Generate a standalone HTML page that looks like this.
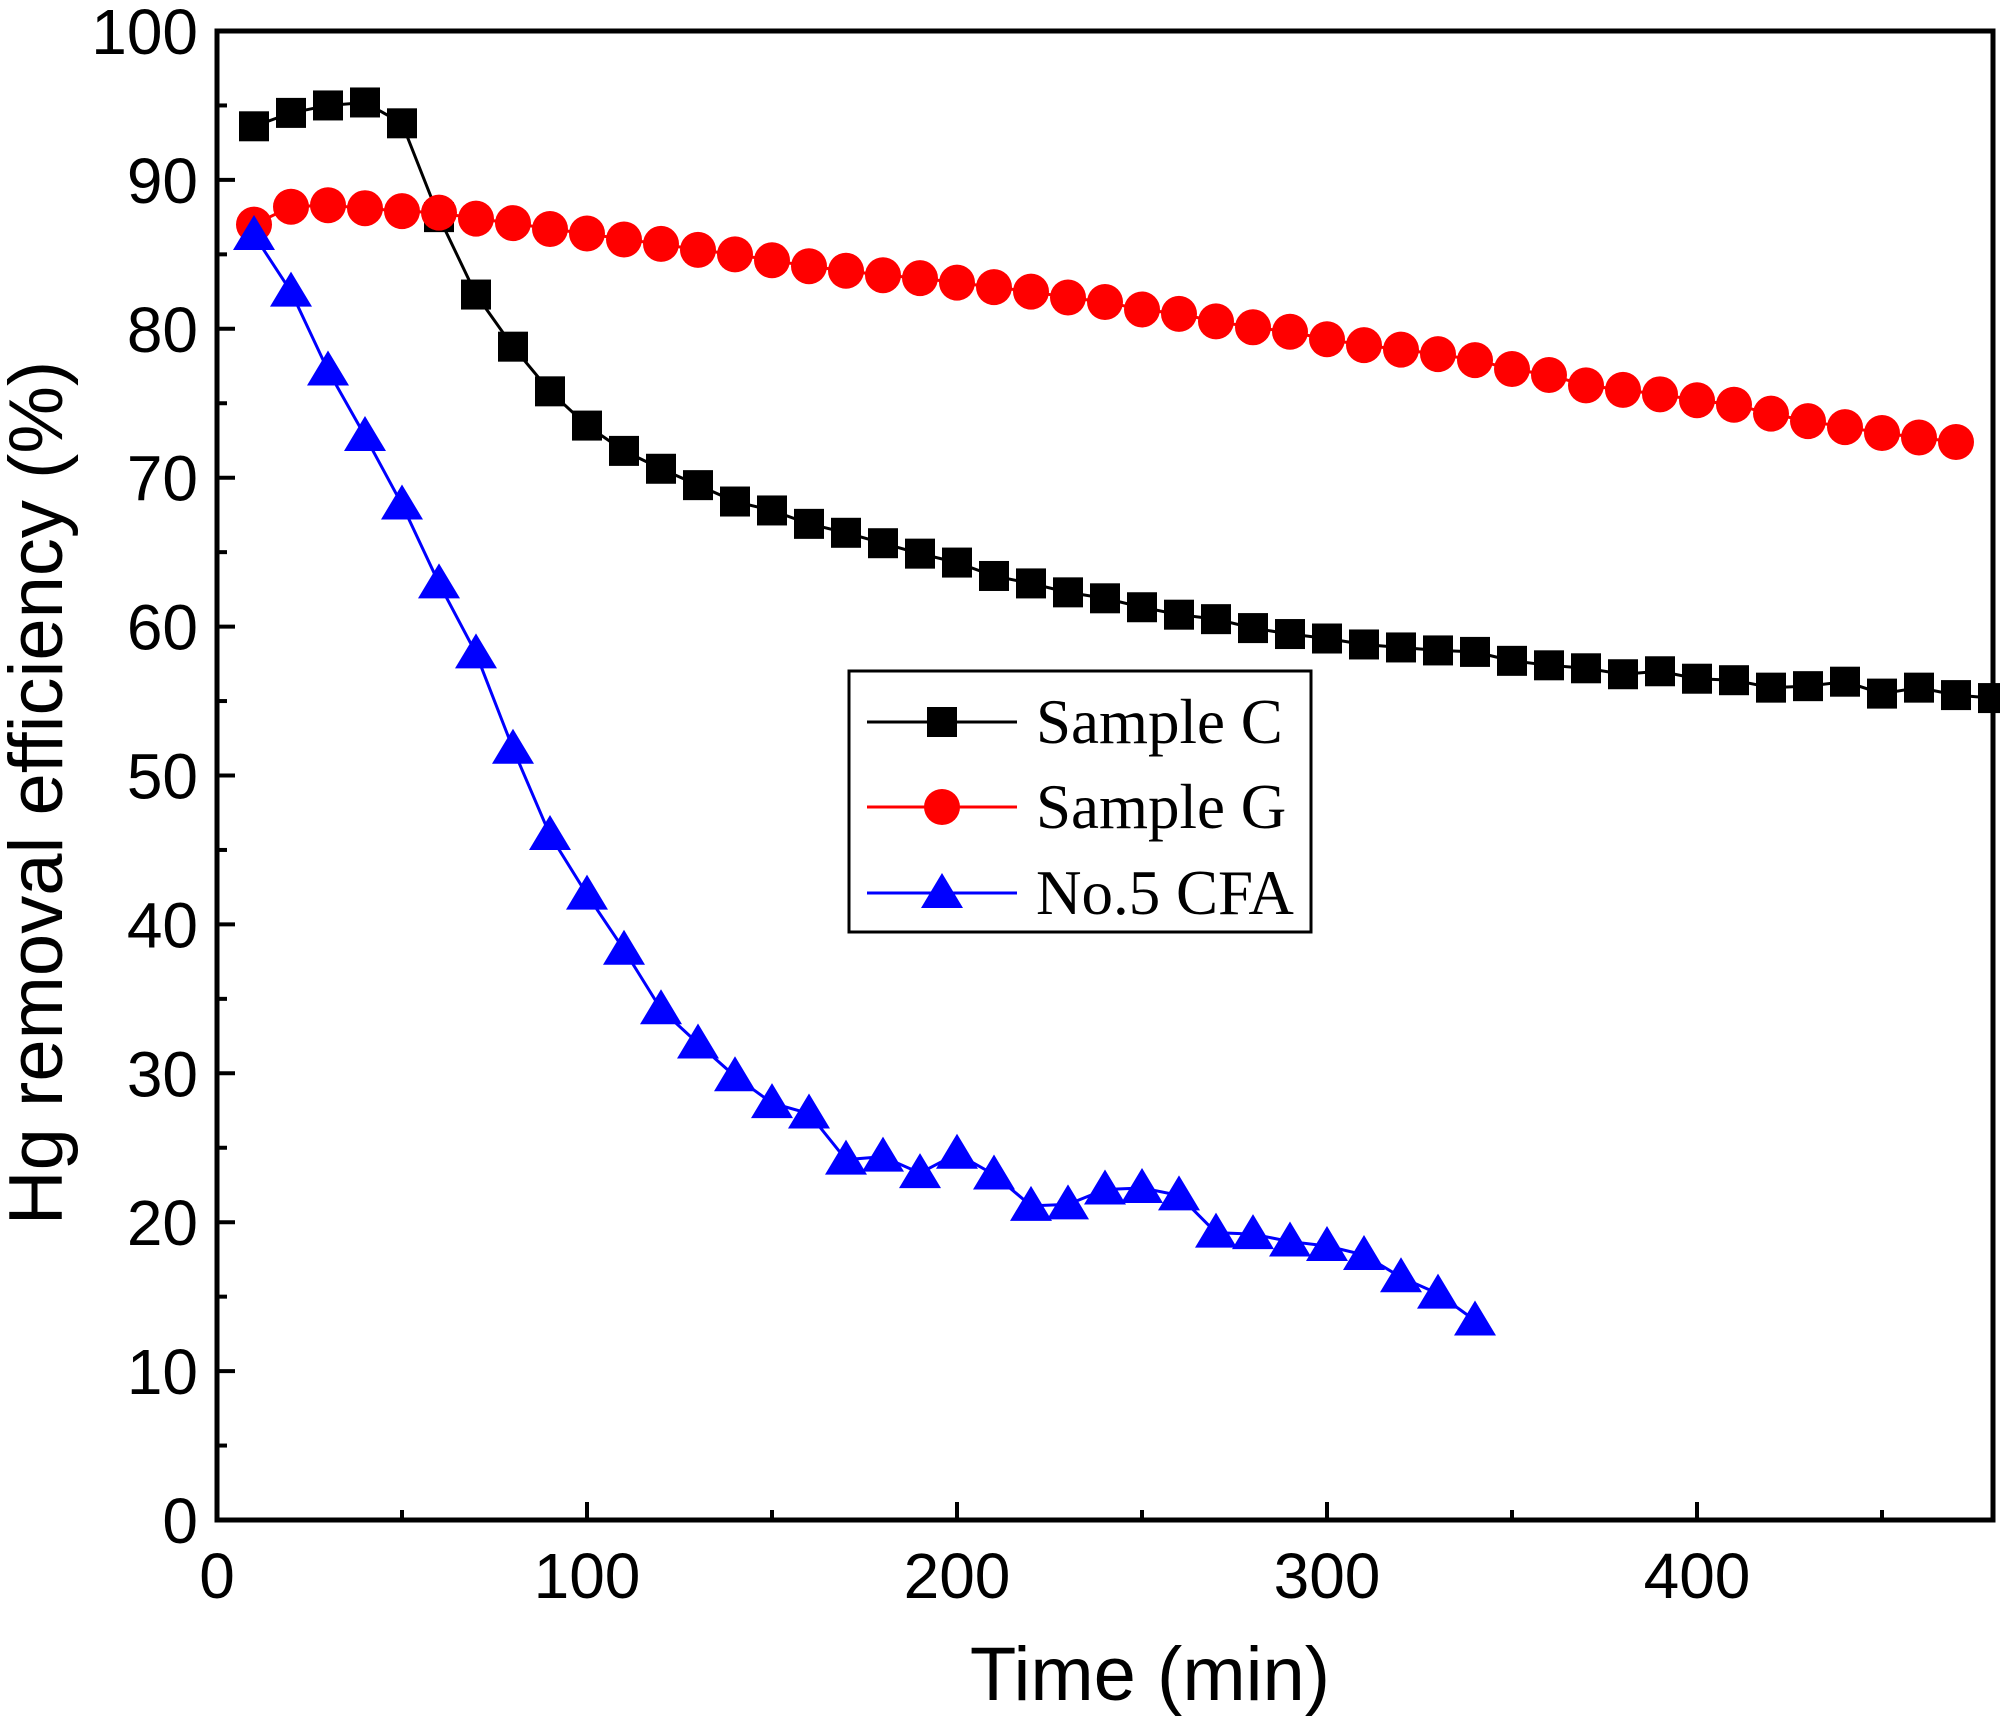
<!DOCTYPE html>
<html><head><meta charset="utf-8"><style>
html,body{margin:0;padding:0;background:#fff;}
svg{display:block;}
text{font-family:"Liberation Sans",sans-serif;}
</style></head><body>
<svg id="chart" width="2000" height="1718" xmlns="http://www.w3.org/2000/svg"></svg>
<script>
const times = [10,20,30,40,50,60,70,80,90,100,110,120,130,140,150,160,170,180,190,200,210,220,230,240,250,260,270,280,290,300,310,320,330,340,350,360,370,380,390,400,410,420,430,440,450,460,470,480];
const sampleC = [93.6,94.5,95.0,95.2,93.8,87.5,82.3,78.8,75.8,73.5,71.8,70.6,69.5,68.4,67.8,66.9,66.3,65.6,64.9,64.3,63.4,62.9,62.3,61.9,61.3,60.8,60.5,59.9,59.5,59.2,58.8,58.6,58.4,58.3,57.7,57.4,57.2,56.8,57.0,56.5,56.4,55.9,56.0,56.3,55.5,55.9,55.4,55.2];
const sampleG = [87.0,88.2,88.3,88.1,87.9,87.8,87.4,87.1,86.7,86.4,86.0,85.7,85.3,85.0,84.6,84.2,83.9,83.6,83.4,83.1,82.8,82.5,82.1,81.8,81.3,81.0,80.5,80.1,79.8,79.3,78.9,78.6,78.3,77.9,77.3,76.9,76.2,75.9,75.6,75.2,74.9,74.3,73.8,73.4,73.0,72.7,72.4];
const cfa = [86.3,82.5,77.2,72.8,68.2,62.9,58.2,51.8,46.0,42.0,38.3,34.3,32.0,29.8,28.0,27.3,24.2,24.4,23.3,24.6,23.2,21.1,21.2,22.2,22.3,21.8,19.3,19.2,18.7,18.4,17.8,16.3,15.2,13.4];
const xTicks = [0,100,200,300,400];
const yTicks = [0,10,20,30,40,50,60,70,80,90,100];

const svg = document.getElementById('chart');
const NS = 'http://www.w3.org/2000/svg';
const L=217,R=1993,T=31,B=1520,XMAX=480,YMAX=100;
const xs = v => L + (R-L)*v/XMAX;
const ys = v => B - (B-T)*v/YMAX;
function mk(tag, attrs, parent){const e=document.createElementNS(NS,tag);for(const k in attrs)e.setAttribute(k,attrs[k]);(parent||svg).appendChild(e);return e;}

const axes = mk('g',{});


for(let v=0; v<=XMAX; v+=50){
  const big = v%100===0;
  const t = mk('line',{x1:xs(v),x2:xs(v),y1:B,y2:B-(big?18:10),stroke:'#000','stroke-width':4},axes);
  
  
}
for(let v=0; v<=YMAX; v+=5){
  const big = v%10===0;
  const t = mk('line',{x1:L,x2:L+(big?18:10),y1:ys(v),y2:ys(v),stroke:'#000','stroke-width':4},axes);
  
  
}
xTicks.forEach(v=>{
  const t = mk('text',{x:xs(v),y:1598,'text-anchor':'middle','font-size':64},axes);
  t.textContent=v;
  
  
});
yTicks.forEach(v=>{
  const t = mk('text',{x:198,y:ys(v)+23,'text-anchor':'end','font-size':64},axes);
  t.textContent=v;
  
  
});
const xt = mk('text',{x:1150,y:1700,'text-anchor':'middle','font-size':76});
xt.textContent='Time (min)';


const yt = mk('text',{x:0,y:0,'text-anchor':'middle','font-size':76,transform:'translate(62,793) rotate(-90)'});
yt.textContent='Hg removal efficiency (%)';



function series(vals,color,shape,name){
  const g = mk('g',{});
  
  
  const pts = vals.map((v,i)=>xs(times[i])+','+ys(v)).join(' ');
  const pl = mk('polyline',{points:pts,fill:'none',stroke:color,'stroke-width':3},g);
  
  
  vals.forEach((v,i)=>{
    const m = marker(shape,xs(times[i]),ys(v),color,g);
    
    
  });
}
function marker(shape,x,y,color,g){
  if(shape==='sq') return mk('rect',{x:x-15,y:y-15,width:30,height:30,fill:color},g);
  if(shape==='ci') return mk('circle',{cx:x,cy:y,r:18,fill:color},g);
  return mk('polygon',{points:`${x},${y-20} ${x-21},${y+15} ${x+21},${y+15}`,fill:color},g);
}
series(sampleC,'#000','sq','sample-c-series');
series(sampleG,'#f00','ci','sample-g-series');
series(cfa,'#00f','tr','cfa-series');

const fr = mk('rect',{x:L,y:T,width:R-L,height:B-T,fill:'none',stroke:'#000','stroke-width':5});



const lg = mk('g',{});


const lb = mk('rect',{x:849,y:671,width:462,height:261,fill:'#fff',stroke:'#000','stroke-width':3},lg);


[['Sample C','#000','sq',722],['Sample G','#f00','ci',807],['No.5 CFA','#00f','tr',893]].forEach(e=>{
  const en = mk('g',{},lg);
  
  
  mk('line',{x1:867,x2:1017,y1:e[3],y2:e[3],stroke:e[1],'stroke-width':3},en);
  marker(e[2],942,e[3],e[1],en);
  const t = mk('text',{x:1036,y:e[3]+21,'font-size':63,style:'font-family:"Liberation Serif",serif'},en);
  t.textContent=e[0];
});
</script>
</body></html>
